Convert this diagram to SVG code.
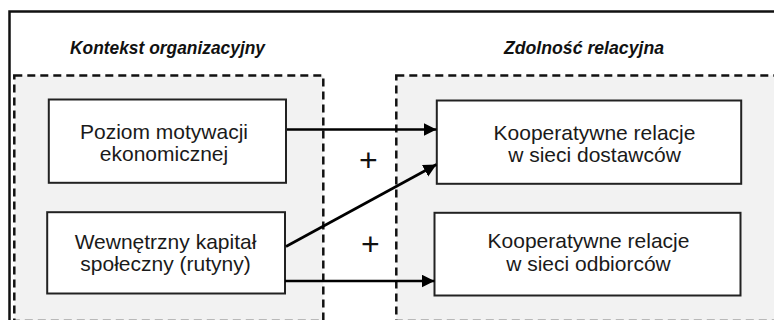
<svg xmlns="http://www.w3.org/2000/svg" width="774" height="320" viewBox="0 0 774 320">
  <style>
    .frame { fill: #ffffff; stroke: #111; stroke-width: 2.5; }
    .group { fill: #f2f2f2; stroke: #111; stroke-width: 2.5; stroke-dasharray: 8 5; }
    .box { fill: #ffffff; stroke: #222; stroke-width: 2; }
    .txt { font-family: "Liberation Sans", Arial, Helvetica, sans-serif; font-size: 21px; fill: #1a1a1a; text-anchor: middle; }
    .title { font-family: "Liberation Sans", Arial, Helvetica, sans-serif; font-size: 19px; font-weight: bold; font-style: italic; fill: #111; text-anchor: middle; }
    .plus { font-family: "Liberation Sans", Arial, Helvetica, sans-serif; font-size: 32px; fill: #111; text-anchor: middle; }
    .conn { stroke: #000; stroke-width: 2.6; fill: none; }
  </style>
  <defs>
    <marker id="arrow" markerUnits="userSpaceOnUse" markerWidth="14" markerHeight="14" refX="13" refY="6.5" orient="auto">
      <path d="M0,0 L13,6.5 L0,13 Z" fill="#000"/>
    </marker>
  </defs>

  <rect class="frame" x="9.5" y="11.5" width="800" height="400"/>

  <g id="group-kontekst">
    <rect class="group" x="14.3" y="75.5" width="309" height="245.5"/>
    <text class="title" x="167.5" y="53.5" textLength="195" lengthAdjust="spacingAndGlyphs">Kontekst organizacyjny</text>
  </g>
  <g id="group-zdolnosc">
    <rect class="group" x="396.3" y="75.5" width="420" height="245.5"/>
    <text class="title" x="584" y="53.5" textLength="160" lengthAdjust="spacingAndGlyphs">Zdolność relacyjna</text>
  </g>

  <g id="node-motywacja">
    <rect class="box" x="48.8" y="99.5" width="237.2" height="83.3"/>
    <text class="txt" x="164" y="138.5">Poziom motywacji</text>
    <text class="txt" x="164" y="160.5">ekonomicznej</text>
  </g>
  <g id="node-kapital">
    <rect class="box" x="47.2" y="212.2" width="237.8" height="81.3"/>
    <text class="txt" x="165.5" y="248.5">Wewnętrzny kapitał</text>
    <text class="txt" x="165.5" y="270.5">społeczny (rutyny)</text>
  </g>
  <g id="node-dostawcy">
    <rect class="box" x="436.8" y="100.5" width="304.4" height="83.3"/>
    <text class="txt" x="594.5" y="140">Kooperatywne relacje</text>
    <text class="txt" x="594.5" y="162">w sieci dostawców</text>
  </g>
  <g id="node-odbiorcy">
    <rect class="box" x="434.5" y="212.8" width="306" height="82.7"/>
    <text class="txt" x="588.5" y="248">Kooperatywne relacje</text>
    <text class="txt" x="588.5" y="270.5">w sieci odbiorców</text>
  </g>

  <g id="connectors">
    <line class="conn" x1="287" y1="129.5" x2="436.5" y2="129.5" marker-end="url(#arrow)"/>
    <line class="conn" x1="286" y1="246.5" x2="436.5" y2="164.5" marker-end="url(#arrow)"/>
    <line class="conn" x1="285" y1="281" x2="434.5" y2="281" marker-end="url(#arrow)"/>
    <text class="plus" x="368.3" y="170.5">+</text>
    <text class="plus" x="370.3" y="254.8">+</text>
  </g>
</svg>
